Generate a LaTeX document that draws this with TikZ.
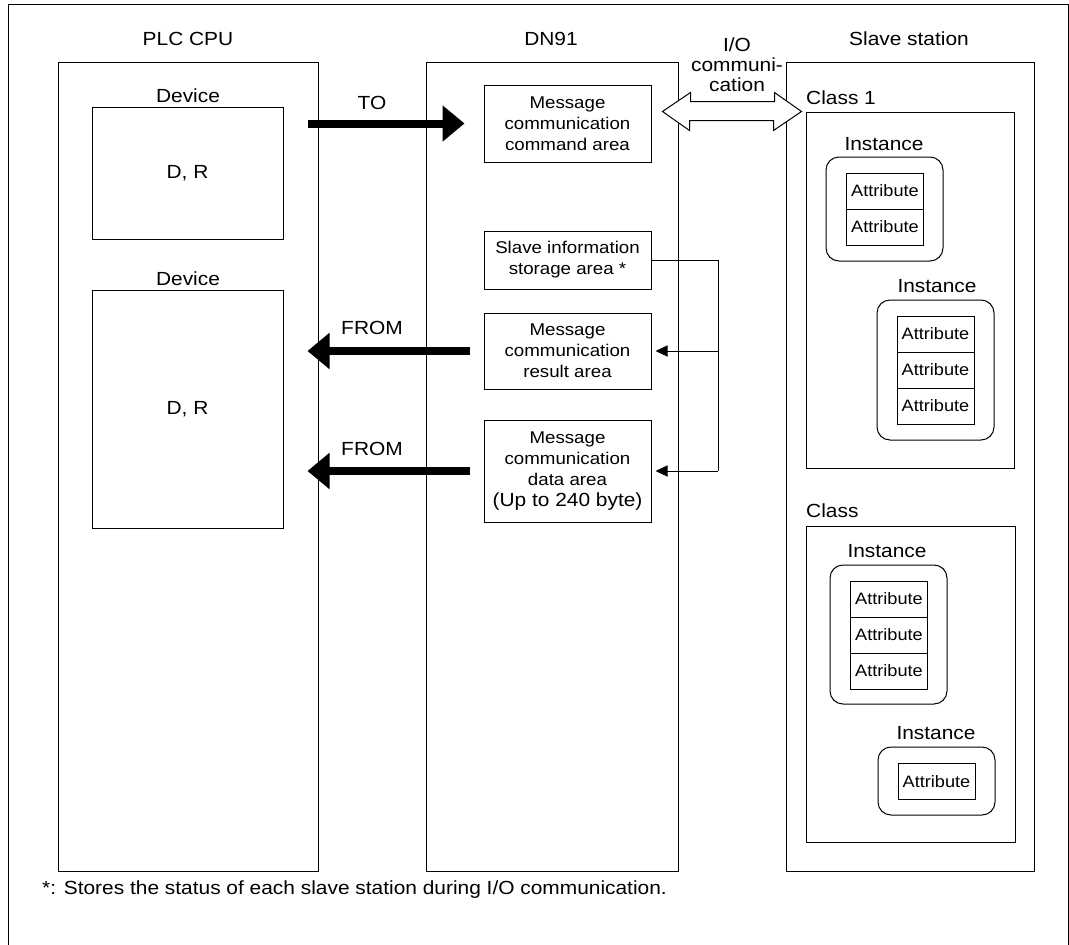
\documentclass[tikz,border=0pt]{standalone}
\usepackage{fontspec}
\setmainfont[FakeStretch=1.1]{Liberation Sans}
\usetikzlibrary{arrows.meta}

\begin{document}
\begin{tikzpicture}[x=1pt,y=-1pt,
	box/.style={draw, line width=1pt, inner sep=0pt},
	area/.style={draw, line width=1pt, align=center, minimum width=167pt, inner sep=0pt, font=\fontsize{17}{21}\selectfont},
	attr/.style={draw, line width=1pt, minimum width=77pt, minimum height=36pt, inner sep=0pt, font=\fontsize{16.5}{18}\selectfont},
	inst/.style={draw, line width=1pt, rounded corners=13pt, minimum width=117pt, inner sep=0pt},
	title/.style={inner sep=0pt, font=\fontsize{19}{20}\selectfont},
	bigarrow/.style={line width=8pt, -{Triangle[length=22pt,width=35pt]}},
	thinarrow/.style={line width=1pt, -{Triangle[length=12pt,width=11pt]}, shorten >=4pt}]
	\useasboundingbox (0,0) rectangle (1069,945);
	\draw[line width=1pt] (8,945) -- (8,4) -- (1068,4) -- (1068,945);
	% PLC CPU
	\path (188,466.5) node (plc) [box, minimum width=260pt, minimum height=809pt] {};
	\path (188,39) node (plclabel) [title] {PLC CPU};
	\path (187.5,173) node (dev1) [box, title, minimum width=191pt, minimum height=132pt] {D, R};
	\path (188,96) node (dev1label) [title] {Device};
	\path (187.5,409) node (dev2) [box, title, minimum width=191pt, minimum height=238pt] {D, R};
	\path (188,279) node (dev2label) [title] {Device};
	% DN91
	\path (552,466.5) node (dn) [box, minimum width=252pt, minimum height=809pt] {};
	\path (551,39) node (dnlabel) [title] {DN91};
	\path (567.5,123.5) node (cmd) [area, minimum height=77pt] {Message\\communication\\command area};
	\path (567.5,260) node (info) [area, minimum height=58pt] {Slave information\\storage area *};
	\path (567.5,351) node (result) [area, minimum height=76pt] {Message\\communication\\result area};
	\path (567.5,471) node (data) [area, minimum height=102pt] {Message\\communication\\data area\\{\fontsize{19}{21}\selectfont (Up to 240 byte)}};
	% Slave station
	\path (910,466.5) node (slave) [box, minimum width=248pt, minimum height=809pt] {};
	\path (909,39) node (slavelabel) [title] {Slave station};
	\path (910,290) node (class1) [box, minimum width=208pt, minimum height=356pt] {};
	\path (806,98) node (class1label) [title, anchor=west] {Class 1};
	\path (910.5,684) node (class2) [box, minimum width=209pt, minimum height=316pt] {};
	\path (806,511) node (class2label) [title, anchor=west] {Class};
	\path (884.5,209) node (inst1) [inst, minimum height=104pt] {};
	\path (884,144) node (inst1label) [title] {Instance};
	\path (935.5,370) node (inst2) [inst, minimum height=140pt] {};
	\path (937,286) node (inst2label) [title] {Instance};
	\path (888.5,634.5) node (inst3) [inst, minimum height=139pt] {};
	\path (887,551) node (inst3label) [title] {Instance};
	\path (936.5,781) node (inst4) [inst, minimum height=68pt] {};
	\path (936,733) node (inst4label) [title] {Instance};
	\foreach \i in {0,1}
		\path (885,{191+36*\i}) node (attra\i) [attr] {Attribute};
	\foreach \i in {0,1,2}{
		\path (935.5,{334+36*\i}) node (attrb\i) [attr] {Attribute};
		\path (889,{599+36*\i}) node (attrc\i) [attr] {Attribute};
	}
	\path (936.5,781.5) node (attrd0) [attr] {Attribute};
	% Transfers
	\draw[bigarrow] ([xshift=-11pt]plc.east |- cmd.west) -- ([xshift=-19pt]cmd.west);
	\path (372,103) node (tolabel) [title] {TO};
	\draw[bigarrow] ([xshift=-14pt]result.west) -- ([xshift=-11pt]plc.east |- result.west);
	\path (372,328) node (fromlabel1) [title] {FROM};
	\draw[bigarrow] ([xshift=-14pt]data.west) -- ([xshift=-11pt]plc.east |- data.west);
	\path (372,449) node (fromlabel2) [title] {FROM};
	% I/O communication
	\coordinate (iol) at ([xshift=11pt]cmd.east |- class1.north);
	\coordinate (ior) at ([xshift=-4pt]class1.north west);
	\draw[line width=1pt, fill=white] (iol) -- ++(28,-19) -- ++(0,9) -- ++(84,0) -- ++(0,-9) -- (ior)
		-- ++(-28,19) -- ++(0,-10) -- ++(-84,0) -- ++(0,10) -- cycle;
	\path (737,65) node (iolabel) [title, align=center] {I/O\\communi-\\cation};
	% Slave information
	\coordinate (bus) at (718,260);
	\draw[line width=1pt] (info.east) -- (bus) -- (bus |- data.east);
	\draw[thinarrow] (bus |- result.east) -- (result.east);
	\draw[thinarrow] (bus |- data.east) -- (data.east);
	\path (42,890) node (note) [title, anchor=west] {*: Stores the status of each slave station during I/O communication.};
\end{tikzpicture}
\end{document}
